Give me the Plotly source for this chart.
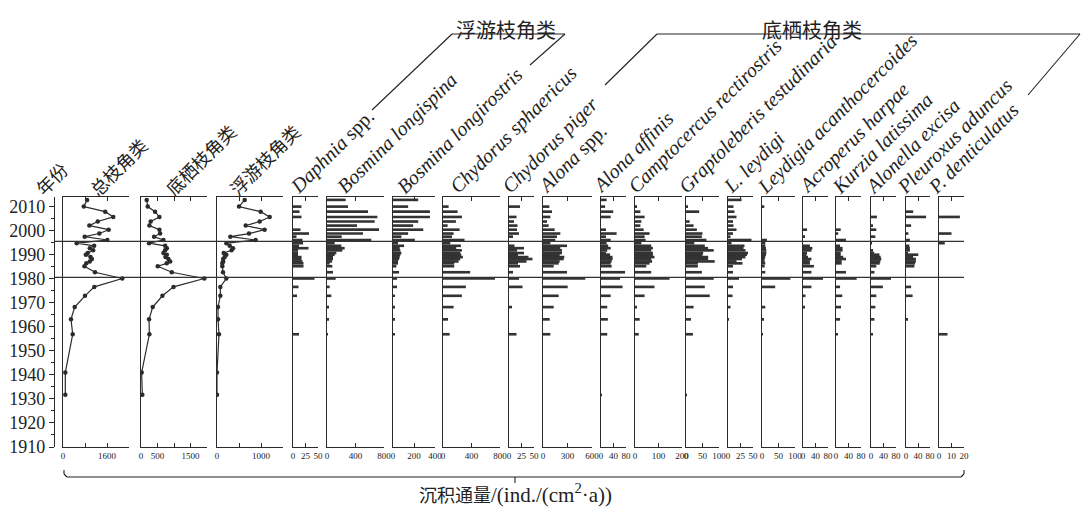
import plotly.graph_objects as go

W, H = 1082, 511

# ---------------- data ----------------
years = [2012.8, 2010.0, 2007.9, 2005.7, 2003.8, 2002.1, 2000.4, 1998.8, 1997.5, 1996.1,
         1994.8, 1993.7, 1992.7, 1991.8, 1990.7, 1990.0, 1989.0, 1988.2, 1987.2, 1986.4,
         1985.2, 1982.7, 1980.1, 1976.6, 1972.9, 1968.2, 1963.1, 1956.9, 1941.0, 1931.7]

total = [877, 755, 1535, 1827, 1264, 957, 1661, 1321, 788, 1612,
         497, 1133, 975, 1097, 900, 829, 1000, 1050, 975, 850,
         780, 1164, 2157, 1139, 800, 425, 290, 353, 84, 84]
benthic = [173, 203, 426, 558, 294, 254, 558, 579, 396, 680,
           244, 731, 782, 731, 680, 782, 740, 830, 883, 780,
           508, 934, 1919, 985, 650, 355, 244, 254, 20, 40]
planktonic = [629, 500, 992, 1197, 970, 652, 1083, 727, 303, 879,
              212, 288, 364, 330, 152, 212, 175, 140, 140, 120,
              121, 136, 212, 76, 76, 23, 23, 45, 0, 0]

daphnia = [0, 17, 13, 17, 0, 0, 15, 32, 7, 19, 20, 12, 31, 10, 10, 10, 17, 17, 19, 21, 21, 0, 43, 11, 8, 0, 0, 12, 0, 0]
b_longispina = [262, 295, 575, 707, 669, 421, 730, 505, 206, 622, 108, 201, 248, 215, 131, 108, 84, 84, 70, 37, 75, 84, 122, 37, 61, 19, 19, 14, 0, 0]
b_longirostris = [240, 144, 352, 352, 240, 192, 288, 144, 80, 208, 48, 106, 64, 70, 80, 70, 64, 58, 48, 48, 32, 58, 38, 38, 16, 10, 10, 10, 0, 0]
c_sphaericus = [0, 79, 205, 265, 181, 65, 233, 149, 126, 302, 102, 251, 186, 265, 242, 256, 279, 242, 219, 158, 158, 381, 730, 321, 265, 149, 70, 93, 0, 0]
c_piger = [0, 22, 0, 15, 10, 17, 16, 20, 8, 0, 0, 11, 30, 16, 30, 18, 39, 47, 35, 18, 22, 8, 20, 27, 0, 6, 0, 15, 0, 0]
alona_spp = [0, 78, 110, 90, 49, 69, 143, 212, 171, 151, 90, 294, 212, 233, 233, 204, 261, 253, 204, 192, 131, 294, 518, 302, 192, 131, 82, 90, 0, 0]
alona_affinis = [18, 13, 39, 31, 0, 0, 16, 50, 16, 31, 18, 23, 31, 20, 16, 29, 37, 37, 34, 31, 34, 77, 61, 69, 31, 20, 22, 20, 0, 3]
camptocercus = [0, 6, 23, 41, 27, 23, 37, 62, 41, 45, 27, 69, 76, 69, 76, 76, 83, 69, 73, 62, 48, 69, 147, 83, 41, 6, 20, 16, 0, 0]
graptoleberis = [0, 6, 40, 0, 11, 23, 33, 50, 48, 62, 25, 57, 67, 84, 52, 50, 67, 67, 87, 36, 36, 48, 84, 57, 72, 23, 15, 21, 0, 3]
l_leydigi = [27, 11, 13, 17, 10, 11, 17, 10, 5, 47, 7, 33, 31, 35, 40, 38, 35, 28, 17, 29, 10, 10, 22, 10, 9, 5, 2, 0, 0, 0]
leydigia = [0, 7, 0, 0, 0, 0, 0, 0, 0, 15, 10, 10, 12, 13, 13, 12, 10, 8, 8, 10, 8, 10, 86, 40, 0, 10, 5, 3, 0, 0]
acroperus = [0, 0, 0, 0, 0, 0, 13, 0, 5, 0, 0, 22, 30, 27, 13, 11, 16, 27, 22, 22, 35, 27, 64, 27, 8, 4, 0, 0, 0, 0]
kurzia = [0, 0, 0, 0, 0, 0, 15, 7, 0, 32, 0, 13, 21, 21, 15, 15, 23, 32, 18, 18, 0, 32, 66, 13, 20, 16, 13, 4, 0, 0]
alonella = [0, 0, 0, 19, 0, 6, 17, 0, 14, 0, 2, 0, 0, 5, 10, 27, 31, 33, 30, 28, 17, 11, 64, 38, 17, 14, 11, 6, 0, 0]
pleuroxus = [0, 0, 24, 67, 0, 17, 0, 8, 0, 13, 0, 11, 13, 13, 4, 41, 24, 33, 33, 30, 28, 0, 0, 17, 22, 0, 4, 0, 0, 0]
p_denticulatus = [0, 0, 0, 16.7, 0, 0, 0, 10, 0, 0, 4.6, 0, 0, 0, 0, 0, 0, 0, 0, 0, 0, 0, 0, 0, 0, 0, 0, 6.8, 0, 0]

panel_labels = ["总枝角类", "底栖枝角类", "浮游枝角类",
                "<i>Daphnia</i> spp.", "<i>Bosmina longispina</i>", "<i>Bosmina longirostris</i>",
                "<i>Chydorus sphaericus</i>", "<i>Chydorus piger</i>", "<i>Alona</i> spp.",
                "<i>Alona affinis</i>", "<i>Camptocercus rectirostris</i>", "<i>Graptoleberis testudinaria</i>",
                "<i>L. leydigi</i>", "<i>Leydigia acanthocercoides</i>", "<i>Acroperus harpae</i>",
                "<i>Kurzia latissima</i>", "<i>Alonella excisa</i>", "<i>Pleuroxus aduncus</i>",
                "<i>P. denticulatus</i>"]
panel_values = [total, benthic, planktonic, daphnia, b_longispina, b_longirostris, c_sphaericus,
                c_piger, alona_spp, alona_affinis, camptocercus, graptoleberis, l_leydigi, leydigia,
                acroperus, kurzia, alonella, pleuroxus, p_denticulatus]
panel_max = [2400, 2000, 1500, 50, 800, 400, 800, 50, 600, 80, 200, 100, 50, 100, 80, 80, 80, 80, 20]
tick_vals = [[0, 800, 1600, 2400], [0, 500, 1000, 1500, 2000], [0, 500, 1000, 1500],
             [0, 25, 50], [0, 400, 800], [0, 200, 400], [0, 400, 800], [0, 25, 50], [0, 300, 600],
             [0, 40, 80], [0, 100, 200], [0, 50, 100], [0, 25, 50], [0, 50, 100], [0, 40, 80],
             [0, 40, 80], [0, 40, 80], [0, 40, 80], [0, 10, 20]]
tick_text = [["0", "", "1600", ""], ["0", "500", "", "1500", ""], ["0", "", "1000", ""],
             ["0", "25", "50"], ["0", "400", "800"], ["0", "200", "400"], ["0", "400", "800"],
             ["0", "25", "50"], ["0", "300", "600"], ["0", "40", "80"], ["0", "100", "200"],
             ["0", "50", "100"], ["0", "25", "50"], ["0", "50", "100"], ["0", "40", "80"],
             ["0", "40", "80"], ["0", "40", "80"], ["0", "40", "80"], ["0", "10", "20"]]
year_ticks = list(range(1910, 2011, 10))
zone_bounds = [1995.5, 1980.6]

# ---------------- layout geometry (pixels) ----------------
panels_px = [(63, 129), (141, 207), (217, 283), (293, 318), (327, 384), (393, 435), (443, 500),
             (509, 534), (543, 592), (601, 626), (635, 682), (686, 719), (728, 753), (762, 795),
             (803, 828), (836, 861), (871, 896), (906, 930), (939, 964)]
# where each rotated header text starts (left end of its baseline)
label_start_px = [84, 160, 224, 295, 342, 402, 455, 507, 543, 597, 633, 683, 728, 762, 803, 837, 870, 902, 933]
YAX_PX = 54
TOP_PX, BOT_PX = 197, 447


def px(x):
    return x / W


def py(y):
    return 1 - y / H


ydom = [py(BOT_PX), py(TOP_PX)]
INK = "#2b2b2b"
SERIF = "'Liberation Serif', 'Times New Roman', 'Noto Sans CJK SC', serif"

fig = go.Figure()
# dummy trace to carry the year axis
fig.add_trace(go.Scatter(x=[None], y=[None], xaxis="x", yaxis="y", showlegend=False, hoverinfo="skip"))

layout = dict(
    template="none",
    width=W, height=H, margin=dict(l=0, r=0, t=0, b=0, pad=0), autosize=False,
    paper_bgcolor="white", plot_bgcolor="rgba(0,0,0,0)", showlegend=False,
    font=dict(family=SERIF, color="#222"),
    yaxis=dict(domain=ydom, anchor="free", position=px(YAX_PX), range=[1910, 2014], automargin=False,
               tickvals=year_ticks, ticks="outside", ticklen=5, tickwidth=1, tickcolor=INK,
               showline=True, linecolor=INK, linewidth=1.2, showgrid=False, zeroline=False,
               tickfont=dict(family=SERIF, size=18, color="#222"),
               minor=dict(tickvals=[v + 5 for v in year_ticks[:-1]], ticks="outside", ticklen=3,
                          tickcolor=INK, showgrid=False)),
)

for i, ((l, r), vals) in enumerate(zip(panels_px, panel_values)):
    xname = "x" if i == 0 else f"x{i + 1}"
    xkey = "xaxis" if i == 0 else f"xaxis{i + 1}"
    yname = f"y{i + 2}"
    ykey = f"yaxis{i + 2}"
    layout[xkey] = dict(domain=[px(l), px(r)], anchor=yname, range=[0, panel_max[i]], automargin=False,
                        tickvals=tick_vals[i], ticktext=tick_text[i], ticks="inside", ticklen=4,
                        tickwidth=1, tickcolor=INK, showline=True, linecolor=INK, linewidth=1.2,
                        mirror="ticks", showgrid=False, zeroline=False, tickangle=0,
                        tickfont=dict(family=SERIF, size=9, color="#222"))
    layout[ykey] = dict(domain=ydom, anchor=xname, matches="y", range=[1910, 2014], automargin=False,
                        showline=True, linecolor=INK, linewidth=1.2, showticklabels=False,
                        ticks="", showgrid=False, zeroline=False)
    if i < 3:
        fig.add_trace(go.Scatter(x=vals, y=years, xaxis=xname, yaxis=yname, mode="lines+markers",
                                 line=dict(color=INK, width=1.2),
                                 marker=dict(color=INK, size=4.5), showlegend=False))
    else:
        fig.add_trace(go.Bar(x=vals, y=years, orientation="h", xaxis=xname, yaxis=yname, width=1.1,
                             marker=dict(color="#333333", line=dict(width=0)), showlegend=False))

fig.update_layout(**layout)

shapes = []
for yb in zone_bounds:
    shapes.append(dict(type="line", xref="paper", yref="y", x0=px(YAX_PX), x1=px(964), y0=yb, y1=yb,
                       line=dict(color="#333", width=1.3)))


def seg(x0, y0, x1, y1, w=1.1):
    shapes.append(dict(type="line", xref="paper", yref="paper", x0=px(x0), y0=py(y0), x1=px(x1), y1=py(y1),
                       line=dict(color="#222", width=w)))


# group brackets on top
seg(372, 110, 452, 34); seg(452, 34, 565, 34); seg(565, 34, 530, 65)
seg(605, 85, 657, 34); seg(657, 34, 1080, 34); seg(1080, 34, 1028, 95)
# bottom bracket
seg(64, 470, 64, 474); seg(64, 474, 67, 477); seg(67, 477, 961, 477); seg(961, 477, 964, 474); seg(964, 474, 964, 470)
seg(515, 477, 515, 483)

annotations = []
annotations.append(dict(text="年份", x=px(30), y=py(203), xref="paper", yref="paper", xanchor="left",
                        yanchor="bottom", textangle=-45, showarrow=False,
                        font=dict(family=SERIF, size=18, color="#222")))
for i, lab in enumerate(panel_labels):
    ax = label_start_px[i] if i < 3 else label_start_px[i] - 12
    annotations.append(dict(text=lab, x=px(ax), y=py(203 if i < 3 else 201), xref="paper",
                            yref="paper", xanchor="left", yanchor="bottom", textangle=-45, showarrow=False,
                            font=dict(family=SERIF, size=18 if i < 3 else 20, color="#222")))
annotations.append(dict(text="浮游枝角类", x=px(506), y=py(18), xref="paper", yref="paper",
                        showarrow=False, font=dict(family=SERIF, size=20, color="#222")))
annotations.append(dict(text="底栖枝角类", x=px(864), y=py(18), xref="paper", yref="paper",
                        showarrow=False, font=dict(family=SERIF, size=20, color="#222")))
annotations.append(dict(text="沉积通量<span style='font-size:21px'>/(ind./(cm<sup>2</sup>·a))</span>",
                        x=px(515), y=py(478), xref="paper", yref="paper", yanchor="top", showarrow=False,
                        font=dict(family=SERIF, size=18, color="#222")))

fig.update_layout(shapes=shapes, annotations=annotations)
fig.write_html("out.html", config={"displayModeBar": False},
               post_script="document.body.style.margin='0px';document.body.style.overflow='hidden';")
